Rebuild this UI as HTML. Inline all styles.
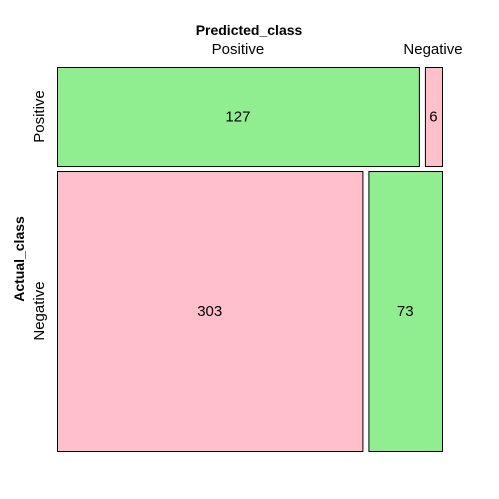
<!DOCTYPE html>
<html><head><meta charset="utf-8"><style>body{margin:0;background:#fff}svg{display:block;font-family:"Liberation Sans",Arial,sans-serif}</style></head>
<body>
<svg id="c" width="499" height="499">
<text x="249" y="35" text-anchor="middle" font-weight="bold" font-size="14">Predicted_class</text>
<text x="24" y="259" text-anchor="middle" font-weight="bold" font-size="14" transform="rotate(-90 24 259)">Actual_class</text>
</svg>
<script>
const actualClasses = ["Positive", "Negative"];
const predictedClasses = ["Positive", "Negative"];
const counts = [[127, 6], [303, 73]];
const svg = document.getElementById('c');
const NS = 'http://www.w3.org/2000/svg';
const X0 = 57, X1 = 442, Y0 = 67, Y1 = 451, GX = 6, GY = 5;
const rowTot = counts.map(r => r[0] + r[1]);
const total = rowTot[0] + rowTot[1];
const availH = (Y1 - Y0) - GY * (counts.length - 1);
const availW = (X1 - X0) - GX;
function mk(tag, attrs) { const e = document.createElementNS(NS, tag); for (const k in attrs) e.setAttribute(k, attrs[k]); svg.appendChild(e); return e; }
let y = Y0;
counts.forEach((row, i) => {
  const h = availH * rowTot[i] / total;
  let x = X0;
  row.forEach((v, j) => {
    const w = availW * v / rowTot[i];
    const correct = i === j;
    const r = mk('rect', {x: x + 0.5, y: y + 0.5, width: w, height: h, fill: correct ? '#90ee90' : '#ffc0cb', stroke: '#000', 'stroke-width': 1});
    
    
    const t = mk('text', {x: x + w / 2, y: y + h / 2 + 5, 'text-anchor': 'middle', 'font-size': 15});
    t.textContent = v;
    
    
    if (i === 0) {
      const lx = j === 0 ? x + w / 2 : Math.min(x + w / 2, 433);
      const l = mk('text', {x: lx, y: 54, 'text-anchor': 'middle', 'font-size': 15});
      l.textContent = predictedClasses[j];
      
      
    }
    x += w + GX;
  });
  const cy = y + h / 2;
  const l = mk('text', {x: 44, y: cy, 'text-anchor': 'middle', 'font-size': 15, transform: 'rotate(-90 44 ' + cy + ')'});
  l.textContent = actualClasses[i];
  
  
  y += h + GY;
});
</script>
</body></html>
